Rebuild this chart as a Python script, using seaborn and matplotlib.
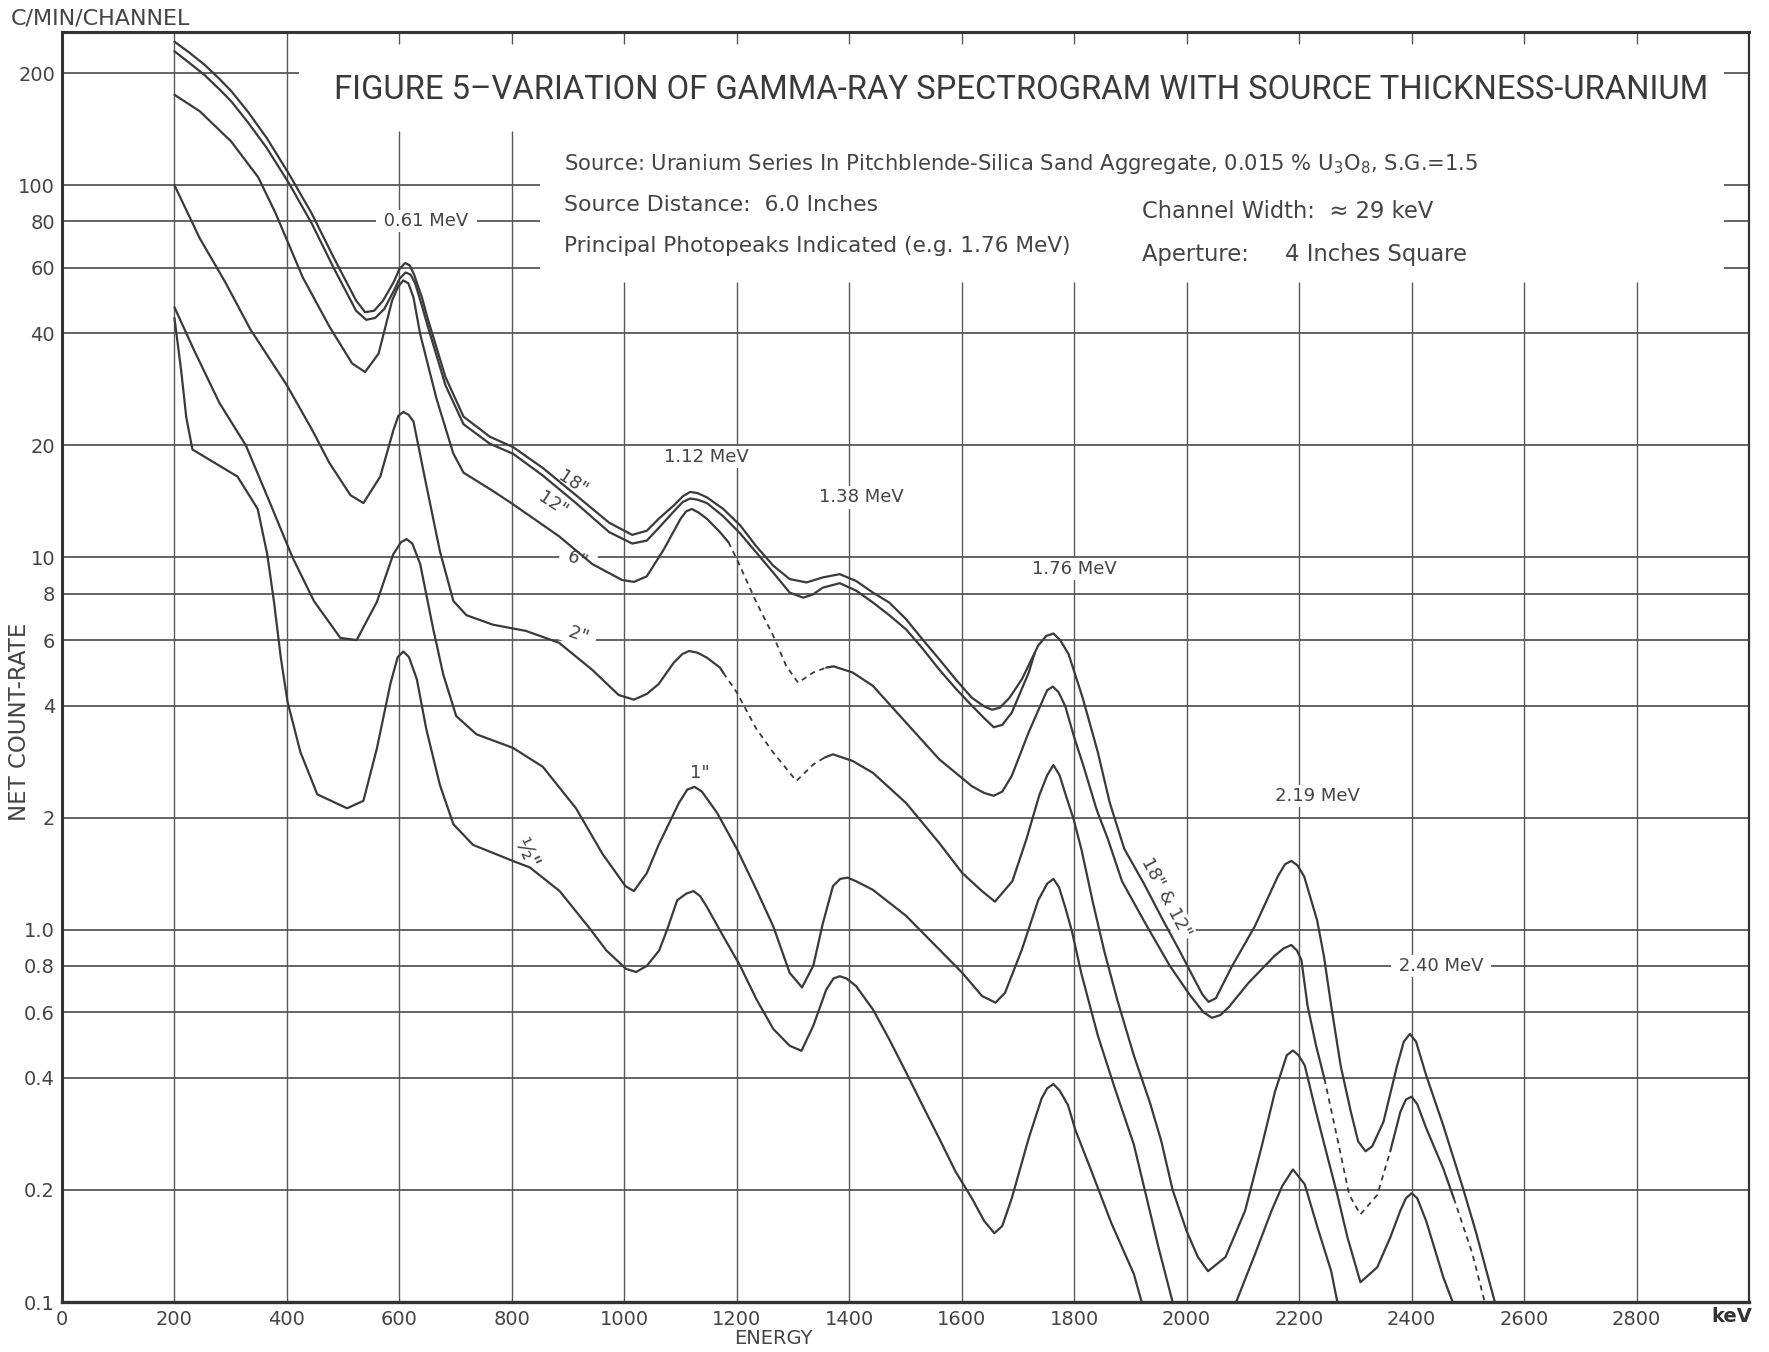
import matplotlib
matplotlib.use("Agg")
import matplotlib.pyplot as plt
from matplotlib import font_manager
import numpy as np
import pandas as pd
import seaborn as sns

# ---------------- data ----------------
energy_18 = [200, 225, 253, 280, 301, 330, 364, 404, 444, 483, 523, 539, 555, 571, 590, 600, 610, 618, 626, 640,
             650, 682, 714, 761, 802, 855, 914, 973, 1014, 1040, 1061, 1088, 1104, 1117, 1130, 1147, 1176, 1206,
             1235, 1265, 1294, 1324, 1353, 1383, 1412, 1442, 1471, 1501, 1530, 1560, 1589, 1618, 1640, 1654, 1668,
             1685, 1707, 1736, 1750, 1763, 1775, 1790, 1815, 1842, 1863, 1889, 1924, 1958, 1987, 2017, 2028, 2039,
             2052, 2081, 2121, 2162, 2175, 2186, 2197, 2209, 2232, 2244, 2257, 2274, 2292, 2305, 2318, 2330, 2350,
             2374, 2386, 2397, 2408, 2426, 2456, 2491, 2514, 2548]
rate_18 = [243, 228, 211, 193, 179, 158, 134, 107, 84, 64, 49, 45.6, 46, 49, 55, 59.5, 61.8, 61, 57.6, 50,
           44, 30.5, 23.9, 21.1, 19.8, 17.4, 14.7, 12.4, 11.5, 11.8, 12.7, 13.8, 14.6, 15.0, 14.9, 14.5, 13.5, 12.2,
           10.7, 9.5, 8.75, 8.57, 8.84, 9.02, 8.65, 8.05, 7.57, 6.83, 6.03, 5.33, 4.71, 4.2, 3.98, 3.9, 3.95,
           4.2, 4.71, 5.8, 6.15, 6.25, 6.0, 5.5, 4.2, 3.0, 2.2, 1.65, 1.33, 1.06, 0.88, 0.72, 0.67, 0.64,
           0.655, 0.8, 1.02, 1.39, 1.5, 1.53, 1.49, 1.39, 1.06, 0.85, 0.625, 0.43, 0.324, 0.27, 0.254, 0.262, 0.305,
           0.43, 0.5, 0.525, 0.5, 0.406, 0.299, 0.203, 0.155, 0.1]

energy_12 = [200, 225, 253, 280, 301, 330, 364, 404, 444, 483, 523, 541, 557, 573, 590, 600, 611, 620, 628, 640,
             650, 682, 714, 761, 802, 855, 914, 973, 1014, 1040, 1061, 1088, 1104, 1117, 1130, 1147, 1176, 1206,
             1235, 1265, 1294, 1318, 1335, 1353, 1383, 1412, 1442, 1471, 1501, 1530, 1560, 1589, 1618, 1640, 1657,
             1672, 1689, 1719, 1730]
rate_12 = [229, 214, 198, 181, 168, 148, 126, 101, 79, 60, 46, 43.5, 44, 46.5, 52, 56, 58.3, 57.5, 54.5, 47.5,
           42, 29, 22.8, 20.2, 19.0, 16.6, 14.0, 11.7, 10.9, 11.1, 12.0, 13.3, 14.1, 14.4, 14.3, 14.0, 12.9, 11.6,
           10.3, 9.1, 8.05, 7.8, 7.95, 8.3, 8.53, 8.15, 7.57, 7.0, 6.41, 5.7, 5.0, 4.45, 4.0, 3.7, 3.5,
           3.55, 3.83, 4.9, 5.55]

energy_6 = [200, 245, 301, 349, 380, 428, 476, 516, 539, 563, 587, 598, 607, 616, 625, 637, 666, 696, 714, 766,
            802, 884, 943, 996, 1017, 1040, 1070, 1100, 1110, 1120, 1132, 1147, 1170, 1185, 1200, 1235, 1265, 1288,
            1309, 1336, 1359, 1372, 1406, 1442, 1501, 1560, 1618, 1640, 1657, 1672, 1689, 1719, 1742, 1752, 1762,
            1772, 1784, 1801, 1815, 1840, 1860, 1885, 1925, 1970, 2005, 2030, 2045, 2060, 2075, 2110, 2156, 2172,
            2186, 2196, 2204, 2215, 2230, 2245, 2268, 2289, 2309, 2339, 2362, 2380, 2390, 2400, 2410, 2426, 2456,
            2475, 2508, 2530]
rate_6 = [175, 158, 131, 105, 84, 56.6, 41.6, 33.2, 31.5, 35.3, 49, 53.5, 55.5, 54.5, 50, 39.8, 26.7, 19.0, 16.9, 15.1,
          13.9, 11.4, 9.6, 8.7, 8.6, 8.9, 10.5, 12.7, 13.3, 13.5, 13.2, 12.7, 11.7, 11.0, 9.9, 7.57, 6.15, 5.11,
          4.61, 4.91, 5.06, 5.1, 4.91, 4.52, 3.6, 2.87, 2.43, 2.33, 2.29, 2.35, 2.59, 3.39, 4.07, 4.4, 4.5,
          4.35, 3.99, 3.25, 2.8, 2.1, 1.75, 1.35, 1.05, 0.8, 0.67, 0.6, 0.58, 0.59, 0.62, 0.72, 0.85, 0.89,
          0.91, 0.88, 0.83, 0.625, 0.489, 0.398, 0.275, 0.194, 0.172, 0.194, 0.254, 0.324, 0.35, 0.356, 0.34, 0.293, 0.229,
          0.19, 0.135, 0.1]
dashed_6 = [(1185, 1359), (2245, 2362), (2475, 2530)]

energy_2 = [200, 245, 290, 335, 400, 445, 475, 513, 536, 566, 589, 598, 607, 616, 625, 648, 672, 696, 719, 766,
            825, 884, 943, 990, 1017, 1040, 1061, 1088, 1103, 1115, 1130, 1147, 1170, 1176, 1200, 1235, 1265, 1306,
            1336, 1356, 1371, 1406, 1442, 1501, 1560, 1601, 1636, 1659, 1690, 1715, 1738, 1752, 1763, 1774, 1785,
            1799, 1813, 1834, 1854, 1877, 1906, 1935, 1955, 1975, 2000, 2020, 2038, 2069, 2104, 2134, 2157, 2178,
            2189, 2199, 2210, 2227, 2245, 2268, 2286, 2309, 2339, 2362, 2380, 2390, 2400, 2410, 2426, 2456, 2473]
rate_2 = [100, 72, 55, 41, 29, 22, 18, 14.7, 14.0, 16.5, 21.9, 24, 24.6, 24.2, 23.2, 15.6, 10.4, 7.64, 7.0, 6.6,
          6.35, 5.9, 4.99, 4.27, 4.15, 4.3, 4.57, 5.22, 5.5, 5.61, 5.55, 5.38, 5.06, 4.9, 4.34, 3.46, 2.99, 2.51,
          2.78, 2.9, 2.96, 2.84, 2.64, 2.19, 1.71, 1.42, 1.27, 1.19, 1.35, 1.75, 2.3, 2.6, 2.77, 2.6, 2.3,
          1.98, 1.64, 1.17, 0.87, 0.645, 0.46, 0.342, 0.27, 0.2, 0.155, 0.132, 0.121, 0.132, 0.176, 0.264, 0.367, 0.46,
          0.474, 0.46, 0.432, 0.338, 0.264, 0.194, 0.149, 0.113, 0.124, 0.149, 0.176, 0.19, 0.196, 0.19, 0.165, 0.117, 0.1]
dashed_2 = [(1176, 1356)]

energy_1 = [200, 235, 280, 327, 370, 410, 448, 495, 524, 560, 589, 603, 613, 623, 637, 660, 678, 701, 737, 802,
            855, 914, 961, 1002, 1017, 1040, 1061, 1097, 1112, 1125, 1138, 1165, 1200, 1235, 1265, 1294, 1316, 1336,
            1353, 1371, 1384, 1397, 1412, 1442, 1501, 1560, 1601, 1636, 1660, 1677, 1707, 1736, 1752, 1763, 1773,
            1784, 1796, 1813, 1842, 1871, 1906, 1929, 1950, 1975, 2088, 2122, 2151, 2170, 2189, 2210, 2233, 2257,
            2268]
rate_1 = [47, 36, 26, 20, 14, 10, 7.64, 6.08, 6.0, 7.6, 10.2, 11.0, 11.2, 10.9, 9.6, 6.44, 4.85, 3.75, 3.35, 3.08,
          2.74, 2.12, 1.6, 1.31, 1.27, 1.42, 1.69, 2.19, 2.38, 2.42, 2.35, 2.06, 1.65, 1.28, 1.02, 0.766, 0.70, 0.80,
          1.04, 1.31, 1.37, 1.38, 1.35, 1.28, 1.09, 0.885, 0.766, 0.664, 0.637, 0.677, 0.885, 1.2, 1.33, 1.37, 1.3,
          1.15, 0.99, 0.76, 0.52, 0.38, 0.265, 0.19, 0.14, 0.1, 0.1, 0.135, 0.176, 0.205, 0.227, 0.207, 0.158, 0.121,
          0.1]
hidden_1 = [(1975, 2088)]

energy_half = [200, 212, 221, 232, 265, 312, 348, 365, 377, 389, 401, 424, 454, 507, 536, 560, 584, 597, 607, 617,
               631, 648, 672, 696, 731, 802, 832, 885, 938, 968, 1003, 1021, 1040, 1062, 1076, 1094, 1110, 1123, 1135,
               1147, 1176, 1206, 1235, 1265, 1294, 1315, 1336, 1359, 1372, 1383, 1395, 1412, 1442, 1471, 1501, 1530,
               1560, 1589, 1618, 1640, 1658, 1672, 1689, 1719, 1742, 1752, 1763, 1774, 1789, 1802, 1831, 1866, 1906,
               1920]
rate_half = [44, 31.7, 23.8, 19.5, 18.2, 16.5, 13.5, 10.2, 7.6, 5.4, 4.1, 3.0, 2.31, 2.12, 2.22, 3.07, 4.58, 5.4, 5.59, 5.4,
             4.71, 3.45, 2.45, 1.92, 1.69, 1.53, 1.47, 1.27, 1.01, 0.88, 0.785, 0.77, 0.8, 0.88, 1.0, 1.2, 1.25, 1.27, 1.23,
             1.15, 0.96, 0.8, 0.65, 0.541, 0.488, 0.473, 0.552, 0.69, 0.74, 0.75, 0.74, 0.706, 0.611, 0.508, 0.414, 0.338,
             0.275, 0.224, 0.19, 0.165, 0.153, 0.16, 0.19, 0.275, 0.352, 0.375, 0.385, 0.37, 0.338, 0.29, 0.224, 0.163, 0.119,
             0.1]

y_ticks = [0.1, 0.2, 0.4, 0.6, 0.8, 1.0, 2, 4, 6, 8, 10, 20, 40, 60, 80, 100, 200]
y_tick_labels = ["0.1", "0.2", "0.4", "0.6", "0.8", "1.0", "2", "4", "6", "8", "10", "20", "40", "60", "80", "100", "200"]
x_ticks = [0, 200, 400, 600, 800, 1000, 1200, 1400, 1600, 1800, 2000, 2200, 2400, 2600, 2800]
x_tick_labels = [str(v) for v in x_ticks]

peak_labels = ["0.61 MeV", "1.12 MeV", "1.38 MeV", "1.76 MeV", "2.19 MeV", "2.40 MeV"]
peak_label_e = [648, 1146, 1421, 1800, 2232, 2452]
peak_label_v = [80, 18.6, 14.5, 9.3, 2.29, 0.8]

# ---------------- styling ----------------
names = {f.name for f in font_manager.fontManager.ttflist}
TITLE_FONT = "Roboto" if "Roboto" in names else "DejaVu Sans"
sns.set_style("white")
plt.rcParams["font.family"] = ["DejaVu Sans"]

INK = "#3a3a3a"
GRID = "#585858"
TXT = "#444444"

W, H = 1769, 1352
fig = plt.figure(figsize=(W / 100, H / 100), dpi=100)
fig.patch.set_facecolor("white")
L, R, B, T = 62, 1749, 1302, 32
ax = fig.add_axes([L / W, 1 - B / H, (R - L) / W, (B - T) / H])
ax.set_facecolor("white")
ax.set_yscale("log")
YMAX = 258
ax.set_xlim(0, 3000)
ax.set_ylim(0.1, YMAX)

# ---------------- grid (partial, as in the figure) ----------------
hgrid = dict(color=GRID, lw=1.3, zorder=1)
vgrid = dict(color=GRID, lw=1.0, zorder=1)
for y in [0.2, 0.4, 0.6, 0.8, 1.0, 2, 4, 6, 8, 10, 20, 40]:
    ax.hlines(y, 0, 3000, **hgrid)
for y in [60, 80, 100]:
    ax.hlines(y, 0, 850, **hgrid)
ax.hlines(200, 0, 422, **hgrid)
for y in [60, 80, 100, 200]:
    ax.hlines(y, 2955, 3000, **hgrid)
for x in [200, 400]:
    ax.vlines(x, 0.1, YMAX, **vgrid)
for x in [600, 800]:
    ax.vlines(x, 0.1, 140, **vgrid)
for x in range(1000, 2801, 200):
    ax.vlines(x, 0.1, 55, **vgrid)
for x in range(600, 2801, 200):
    ax.vlines(x, 239, YMAX, **vgrid)


# ---------------- curves ----------------
def runs(E, V, special, style):
    """split a curve into runs of constant line style"""
    seg_styles = []
    for i in range(len(E) - 1):
        s = "solid"
        for a, b in special:
            if a <= E[i] and E[i + 1] <= b:
                s = style
        seg_styles.append(s)
    out = []
    start = 0
    for i in range(1, len(seg_styles) + 1):
        if i == len(seg_styles) or seg_styles[i] != seg_styles[start]:
            out.append((seg_styles[start], E[start:i + 1], V[start:i + 1]))
            start = i
    return out


curves = [
    (energy_18, rate_18, [], "solid"),
    (energy_12, rate_12, [], "solid"),
    (energy_6, rate_6, dashed_6, "dashed"),
    (energy_2, rate_2, dashed_2, "dashed"),
    (energy_1, rate_1, hidden_1, "none"),
    (energy_half, rate_half, [], "solid"),
]
for E, V, special, style in curves:
    for s, e, v in runs(E, V, special, style):
        if s == "none":
            continue
        df = pd.DataFrame({"energy": e, "rate": v})
        if s == "solid":
            sns.lineplot(data=df, x="energy", y="rate", ax=ax, color=INK, lw=1.6,
                         sort=False, estimator=None, zorder=4)
        else:
            sns.lineplot(data=df, x="energy", y="rate", ax=ax, color=INK, lw=1.3,
                         sort=False, estimator=None, zorder=4, linestyle=(0, (3.0, 2.6)))

# ---------------- axes, ticks ----------------
ax.set_xlabel("")
ax.set_ylabel("")
ax.set_yticks(y_ticks)
ax.set_yticklabels(y_tick_labels)
ax.minorticks_off()
ax.set_xticks(x_ticks)
ax.set_xticklabels(x_tick_labels)
ax.tick_params(axis="both", length=0, labelsize=14, labelcolor=TXT)
ax.tick_params(axis="y", pad=5)
ax.tick_params(axis="x", pad=6)
for side, lw in [("left", 2.2), ("bottom", 2.4), ("top", 2.2), ("right", 1.6)]:
    ax.spines[side].set_visible(True)
    ax.spines[side].set_color("#333333")
    ax.spines[side].set_linewidth(lw)
    ax.spines[side].set_zorder(5)

# ---------------- texts ----------------
box = dict(boxstyle="square,pad=0.12", fc="white", ec="none")
for lab, e, v in zip(peak_labels, peak_label_e, peak_label_v):
    txt = " " + lab + " " if lab in ("0.61 MeV", "2.40 MeV") else lab
    ax.text(e, v, txt, ha="center", va="center", fontsize=13, color=TXT, bbox=box, zorder=3)

curve_labels = [('18"', 909, 15.8, -33, None, 13), ('12"', 873, 13.9, -33, None, 13),
                (' 6" ', 917, 9.9, -22, box, 13), (' 2" ', 919, 6.2, -20, box, 13),
                ('1"', 1134, 2.64, 0, None, 13), ('½"', 825, 1.6, -65, None, 16),
                ('18" & 12"', 1963, 1.22, -62, box, 13)]
for t, e, v, rot, bb, fs in curve_labels:
    ax.text(e, v, t, ha="center", va="center", fontsize=fs, color=TXT, rotation=rot,
            rotation_mode="anchor", bbox=bb, zorder=3)


def ftext(x, y, s, **kw):
    return fig.text(x / W, 1 - y / H, s, **kw)


fitted = []
fitted.append((ftext(11, 18, "C/MIN/CHANNEL", ha="left", va="center", fontsize=13, color=TXT), 180))
ftext(19, 722, "NET COUNT-RATE", ha="center", va="center", rotation=90, fontsize=16.5, color=TXT)
ftext(773, 1339, "ENERGY", ha="center", va="center", fontsize=14, color=TXT)
ftext(1732, 1317, "keV", ha="center", va="center", fontsize=14, color="#333333", fontweight="bold")

fitted.append((ftext(334, 90, "FIGURE 5–VARIATION OF GAMMA-RAY SPECTROGRAM WITH SOURCE THICKNESS-URANIUM",
                     ha="left", va="center", fontsize=26, color="#3a3a3a", family=[TITLE_FONT, "DejaVu Sans"]), 1375))
body = dict(ha="left", va="center", fontsize=15, color=TXT)
fitted.append((ftext(564, 164, r"Source: Uranium Series In Pitchblende-Silica Sand Aggregate, 0.015 % U$_3$O$_8$, S.G.=1.5",
                     **body), 915))
fitted.append((ftext(564, 205, "Source Distance:  6.0 Inches", **body), 314))
fitted.append((ftext(564, 246, "Principal Photopeaks Indicated (e.g. 1.76 MeV)", **body), 505))
fitted.append((ftext(1142, 212, "Channel Width:  ≈ 29 keV", **body), 292))
fitted.append((ftext(1142, 255, "Aperture:     4 Inches Square", **body), 324))

fig.canvas.draw()
renderer = fig.canvas.get_renderer()
for t, target in fitted:
    w = t.get_window_extent(renderer).width
    t.set_fontsize(t.get_fontsize() * target / w)

fig.savefig("out.png", dpi=100, facecolor="white")
